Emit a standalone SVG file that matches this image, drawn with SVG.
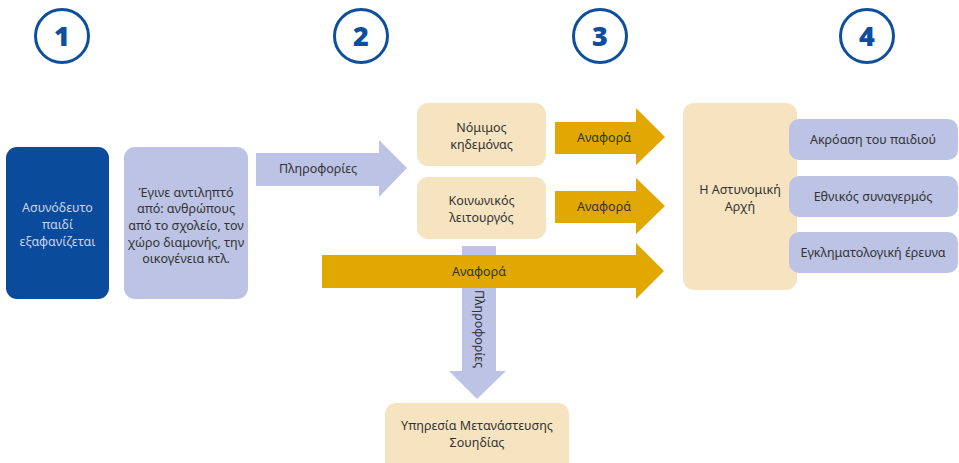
<svg xmlns="http://www.w3.org/2000/svg" width="959" height="463" viewBox="0 0 959 463">
<style>
.num{fill:none;stroke:#0d4f9c;stroke-width:3}
.numt{font-family:"Open Sans","Noto Sans",sans-serif;font-weight:800;font-size:27px;fill:#0d4f9c;text-anchor:middle}
.t{font-family:"Noto Sans","Open Sans",sans-serif;font-size:12.5px;fill:#333;text-anchor:middle}
.cream{fill:#f6e4c1}
.purp{fill:#bcc3e5}
.gold{fill:#e0a800}
</style>
<rect width="959" height="463" fill="#fff"/>
<g id="steps">
<circle class="num" cx="62" cy="36" r="26.5"/><text class="numt" x="62" y="46">1</text>
<circle class="num" cx="361" cy="36" r="26.5"/><text class="numt" x="361" y="46">2</text>
<circle class="num" cx="600" cy="36" r="26.5"/><text class="numt" x="600" y="46">3</text>
<circle class="num" cx="867" cy="36" r="26.5"/><text class="numt" x="867" y="46">4</text>
</g>
<g id="connectors">
<g id="arrow-info1">
<polygon class="purp" points="256,153 379,153 379,140 407,168 379,197 379,186 256,186"/>
<text class="t" x="318" y="173">Πληροφορίες</text>
</g>
<g id="arrow-report1">
<polygon class="gold" points="555,122 636,122 636,108 665,137 636,165 636,154 555,154"/>
<text class="t" x="604" y="142">Αναφορά</text>
</g>
<g id="arrow-report2">
<polygon class="gold" points="555,191 636,191 636,178 665,206 636,234 636,223 555,223"/>
<text class="t" x="604" y="211">Αναφορά</text>
</g>
<g id="arrow-info2">
<polygon class="purp" points="462,246 496,246 496,371 506,371 477,399 449,371 462,371"/>
<text class="t" transform="translate(475,329) rotate(90)" x="0" y="0">Πληροφορίες</text>
</g>
<g id="arrow-report3">
<polygon class="gold" points="322,255 636,255 636,243 664,271 636,299 636,288 322,288"/>
<text class="t" x="479" y="276">Αναφορά</text>
</g>
</g>
<g id="node-child">
<rect x="6" y="147" width="103" height="152" rx="11" fill="#0a4b9b"/>
<text class="t" style="fill:#c9d2ee" x="57.5" y="212">Ασυνόδευτο</text>
<text class="t" style="fill:#c9d2ee" x="57.5" y="229">παιδί</text>
<text class="t" style="fill:#c9d2ee" x="57.5" y="246">εξαφανίζεται</text>
</g>
<g id="node-noticed">
<rect class="purp" x="124" y="147" width="124" height="152" rx="11"/>
<text class="t" x="186" y="197">Έγινε αντιληπτό</text>
<text class="t" x="186" y="213">από: ανθρώπους</text>
<text class="t" x="186" y="230">από το σχολείο, τον</text>
<text class="t" x="186" y="247">χώρο διαμονής, την</text>
<text class="t" x="186" y="263">οικογένεια κτλ.</text>
</g>
<g id="node-guardian">
<rect class="cream" x="417" y="103" width="129" height="63" rx="11"/>
<text class="t" x="481.5" y="132">Νόμιμος</text>
<text class="t" x="481.5" y="149">κηδεμόνας</text>
</g>
<g id="node-social">
<rect class="cream" x="417" y="177" width="129" height="62" rx="11"/>
<text class="t" x="481.5" y="205">Κοινωνικός</text>
<text class="t" x="481.5" y="222">λειτουργός</text>
</g>
<g id="node-police">
<rect class="cream" x="683" y="103" width="114" height="187" rx="11"/>
<text class="t" x="740" y="194">Η Αστυνομική</text>
<text class="t" x="740" y="211">Αρχή</text>
</g>
<g id="node-hearing">
<rect class="purp" x="789" y="119" width="169" height="41" rx="10"/>
<text class="t" x="873" y="144">Ακρόαση του παιδιού</text>
</g>
<g id="node-alarm">
<rect class="purp" x="789" y="176" width="169" height="41" rx="10"/>
<text class="t" x="873" y="201">Εθνικός συναγερμός</text>
</g>
<g id="node-investigation">
<rect class="purp" x="789" y="232" width="169" height="41" rx="10"/>
<text class="t" x="873" y="257">Εγκληματολογική έρευνα</text>
</g>
<g id="node-migration">
<rect class="cream" x="385" y="403" width="184" height="70" rx="11"/>
<text class="t" x="477" y="430">Υπηρεσία Μετανάστευσης</text>
<text class="t" x="477" y="447">Σουηδίας</text>
</g>
</svg>
